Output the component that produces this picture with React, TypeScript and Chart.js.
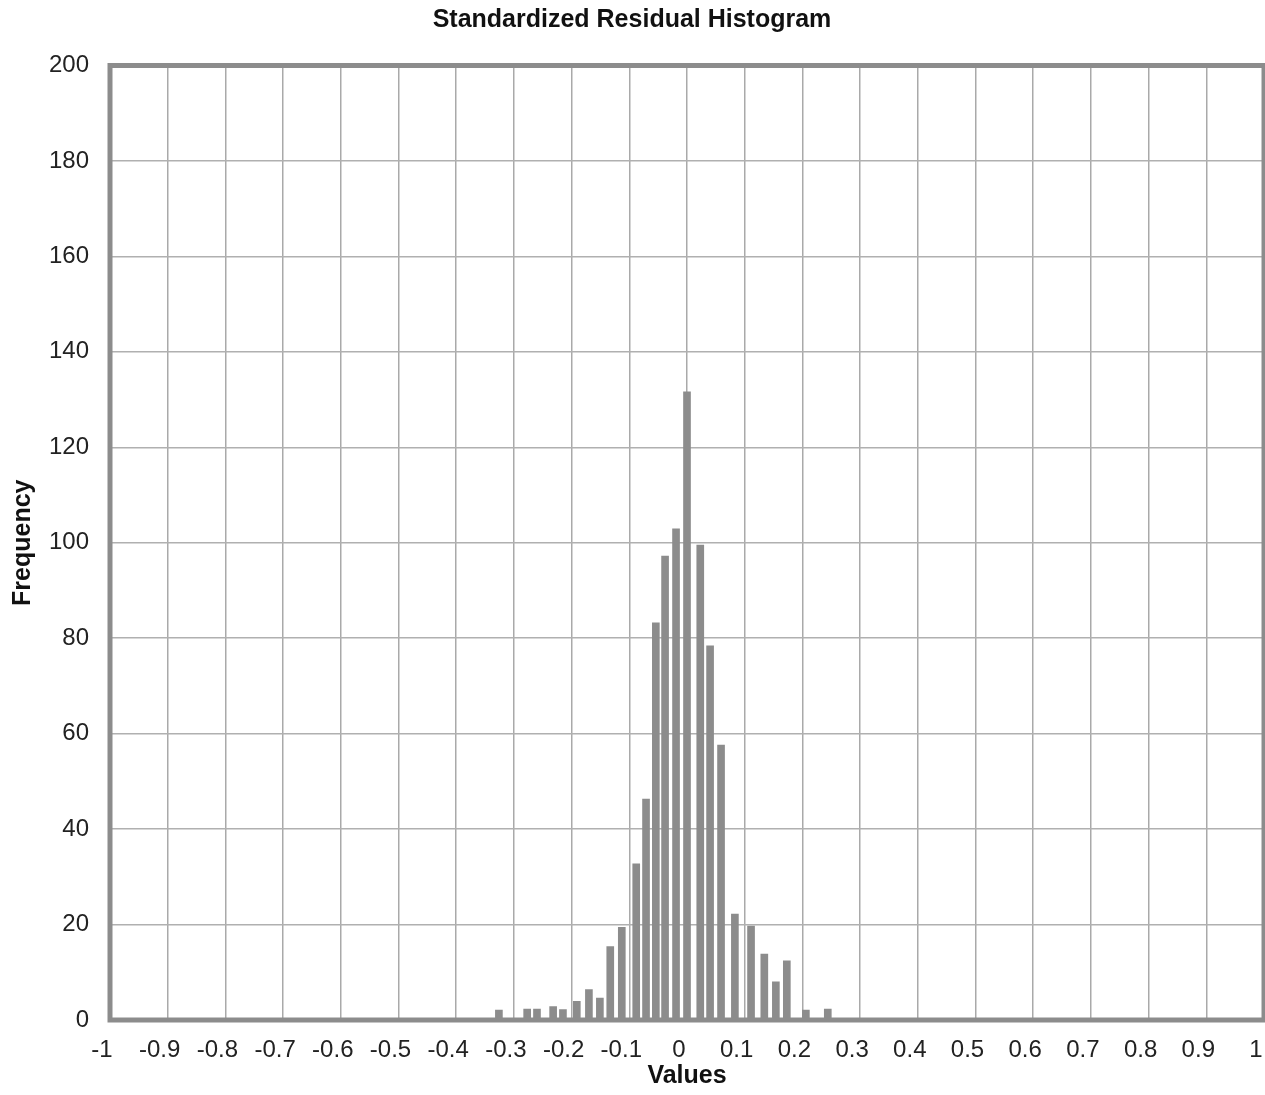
import React, { useEffect, useRef } from "react";
import { Chart, registerables } from "chart.js";

Chart.register(...registerables);

const binCenters = [-0.326, -0.277, -0.26, -0.232, -0.215, -0.191, -0.17, -0.151, -0.133, -0.113, -0.088, -0.071, -0.054, -0.038, -0.019, 0.0, 0.023, 0.04, 0.059, 0.083, 0.111, 0.134, 0.154, 0.173, 0.206, 0.244];
const frequencies = [2.1, 2.3, 2.3, 2.8, 2.2, 3.9, 6.4, 4.6, 15.4, 19.4, 32.7, 46.3, 83.2, 97.2, 102.9, 131.6, 99.5, 78.4, 57.6, 22.2, 19.7, 13.8, 8.0, 12.4, 2.1, 2.3];

const chartTitle = "Standardized Residual Histogram";
const xTitle = "Values";
const yTitle = "Frequency";
const xMin = -1;
const xMax = 1;
const xStep = 0.1;
const yMin = 0;
const yMax = 200;
const yStep = 20;

const W = 1265;
const H = 1095;
const FONT = "'Liberation Sans', Arial, sans-serif";

const frameBorder = {
  id: "frameBorder",
  afterDatasetsDraw(chart: any) {
    const { ctx, chartArea } = chart;
    ctx.save();
    ctx.strokeStyle = "#8c8c8c";
    ctx.lineWidth = 5;
    ctx.strokeRect(chartArea.left, chartArea.top, chartArea.right - chartArea.left, chartArea.bottom - chartArea.top);
    ctx.restore();
  },
};

export default function App() {
  const ref = useRef<HTMLCanvasElement>(null);

  useEffect(() => {
    document.body.style.margin = "0";
    const canvas = ref.current!;
    const points = binCenters.map((x, i) => ({ x, y: frequencies[i] }));
    const chart = new Chart(canvas, {
      type: "bar",
      data: {
        datasets: [
          {
            data: points as any,
            backgroundColor: "#8c8c8c",
            borderWidth: 0,
            barThickness: 7,
          },
        ],
      },
      plugins: [frameBorder],
      options: {
        animation: false,
        responsive: false,
        devicePixelRatio: 1,
        layout: { padding: { left: 0, right: 1, top: 0, bottom: 0 } },
        plugins: {
          legend: { display: false },
          tooltip: { enabled: false },
          title: {
            display: true,
            text: chartTitle,
            color: "#111",
            font: { family: FONT, size: 25, weight: "bold" },
            padding: { top: 5.5, bottom: 30 },
          },
        },
        scales: {
          x: {
            type: "linear",
            min: xMin,
            max: xMax,
            offset: false,
            grid: { offset: false, color: "#a9a9a9", lineWidth: 1.5, drawTicks: false },
            border: { display: false },
            ticks: {
              stepSize: xStep,
              autoSkip: false,
              maxRotation: 0,
              padding: 16,
              labelOffset: -8,
              color: "#222",
              font: { family: FONT, size: 24 },
              callback: (v: any) => String(Number(Number(v).toFixed(1))),
            },
            title: {
              display: true,
              text: xTitle,
              color: "#111",
              font: { family: FONT, size: 25, weight: "bold" },
              padding: { top: 0, bottom: 4 },
            },
            afterFit: (s: any) => {
              s.height = 75;
              s.paddingLeft = 0;
              s.paddingRight = 0;
            },
          },
          y: {
            min: yMin,
            max: yMax,
            grid: { color: "#b0b0b0", lineWidth: 1.5, drawTicks: false },
            border: { display: false },
            ticks: {
              stepSize: yStep,
              padding: 21,
              color: "#222",
              font: { family: FONT, size: 24 },
            },
            title: {
              display: true,
              text: yTitle,
              color: "#111",
              font: { family: FONT, size: 25, weight: "bold" },
              padding: { top: 8.5, bottom: 0 },
            },
            afterFit: (s: any) => {
              s.width = 110;
              s.paddingTop = 0;
              s.paddingBottom = 0;
            },
          },
        },
      } as any,
    });
    return () => chart.destroy();
  }, []);

  return <canvas ref={ref} width={W} height={H} style={{ display: "block" }} />;
}
